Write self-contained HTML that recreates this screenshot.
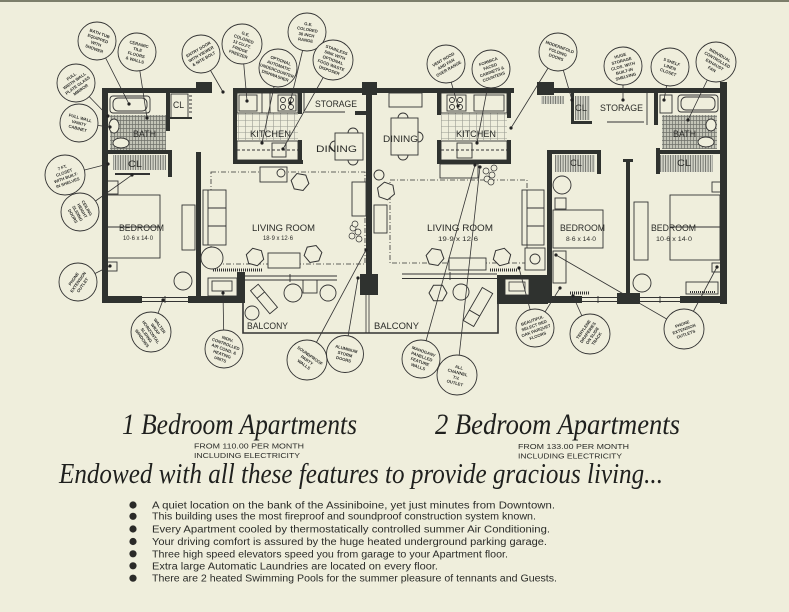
<!DOCTYPE html>
<html><head><meta charset="utf-8"><style>
html,body{margin:0;padding:0;background:#efeedc;}
svg{display:block}
.lb{font-family:"Liberation Sans",sans-serif;fill:#2a2b28;}
.bt{font-family:"Liberation Sans",sans-serif;font-size:4.2px;font-weight:bold;fill:#2e2f2c;}
.sc{font-family:"Liberation Serif",serif;font-style:italic;fill:#1f201e;}
</style></head><body>
<svg xmlns="http://www.w3.org/2000/svg" width="789" height="612" viewBox="0 0 789 612">
<defs>
<pattern id="tile" width="3" height="4" patternUnits="userSpaceOnUse"><rect width="3" height="4" fill="#c3c4b7"/><path d="M0.5 0V4M0 0.5H3" stroke="#6f716a" stroke-width="0.7"/></pattern>
<pattern id="vst" width="2.5" height="10" patternUnits="userSpaceOnUse"><rect width="2.5" height="10" fill="#d5d6ca"/><path d="M0.6 0V10" stroke="#6a6c66" stroke-width="0.9"/></pattern>
<pattern id="kt" width="7" height="6" patternUnits="userSpaceOnUse"><path d="M0.5 0V6M0 0.5H7" stroke="#9a9c92" stroke-width="0.6" fill="none"/></pattern>
<polygon id="hex" points="9,0 4.5,7.8 -4.5,7.8 -9,0 -4.5,-7.8 4.5,-7.8" fill="#efeedc" stroke="#333" stroke-width="1"/>
</defs>

<rect width="789" height="612" fill="#efeedc"/>
<rect width="789" height="2" fill="#7c7e6b"/>

<!-- floor fills -->
<rect x="110" y="115" width="56" height="35" fill="url(#tile)"/>
<rect x="113" y="155" width="53" height="15" fill="url(#vst)"/>
<rect x="662" y="115" width="55" height="34" fill="url(#tile)"/>
<rect x="555" y="155" width="40" height="17" fill="url(#vst)"/>
<rect x="660" y="155" width="53" height="17" fill="url(#vst)"/>
<rect x="541" y="96" width="23" height="8" fill="url(#vst)"/>
<rect x="575" y="96" width="15" height="24" fill="url(#vst)"/>
<rect x="237" y="113" width="61" height="27" fill="url(#kt)"/>
<rect x="441" y="113" width="66" height="27" fill="url(#kt)"/>

<!-- furniture / fixtures -->
<g fill="none" stroke="#333" stroke-width="0.9">
 <!-- left bath -->
 <rect x="110" y="96" width="40" height="17" rx="3"/>
 <rect x="113" y="98" width="34" height="13" rx="5"/>
 <ellipse cx="114" cy="126" rx="5" ry="7" fill="#efeedc"/>
 <ellipse cx="121" cy="143" rx="8" ry="5" fill="#efeedc"/>
 <rect x="171" y="94" width="17" height="24"/>
 <path d="M189 96h3M189 100h3M189 104h3M189 108h3M189 112h3"/>
 <path d="M115 174H150" stroke-width="2"/>
 <!-- left bedroom -->
 <rect x="107" y="195" width="53" height="63"/>
 <path d="M107 227H160"/>
 <rect x="107" y="181" width="11" height="13"/>
 <rect x="107" y="262" width="10" height="9"/>
 <circle cx="183" cy="281" r="9"/>
 <rect x="182" y="205" width="13" height="45"/>
 <!-- left living -->
 <rect x="211" y="172" width="154" height="92" stroke-dasharray="5 2 1 2" stroke-width="0.8"/>
 <rect x="203" y="190" width="23" height="55" fill="#efeedc"/>
 <path d="M208 190V245M208 208H226M208 226H226"/>
 <circle cx="212" cy="258" r="11" fill="#efeedc"/>
 <rect x="268" y="253" width="32" height="15" fill="#efeedc"/>
 <rect x="260" y="167" width="27" height="15" fill="#efeedc"/>
 <circle cx="281" cy="173" r="4"/>
 <rect x="352" y="182" width="14" height="34" fill="#efeedc"/>
 <path d="M213 270h50" stroke-dasharray="1 1" stroke-width="3"/>
 <!-- left kitchen -->
 <rect x="237" y="93" width="61" height="20"/>
 <rect x="239" y="95" width="18" height="16"/>
 <rect x="278" y="95" width="18" height="16"/>
 <circle cx="283" cy="100" r="2.5"/><circle cx="291" cy="100" r="2.5"/><circle cx="283" cy="107" r="2.5"/><circle cx="291" cy="107" r="2.5"/>
 <path d="M262 93v20M270 93v20"/>
 <rect x="237" y="141" width="61" height="19"/>
 <path d="M237 150H298" stroke-dasharray="3 2"/>
 <rect x="272" y="143" width="14" height="14"/>
 <!-- left storage / dining -->
 <path d="M304 93V113M305 112H345"/>
 <rect x="335" y="133" width="28" height="27"/>
 <path d="M348 133a5 5 0 0 1 10 0M348 160a5 5 0 0 0 10 0M335 141a5 5 0 0 0 0 10"/>
 <!-- left balcony -->
 <g transform="translate(264 299) rotate(50)"><rect x="-15" y="-5" width="30" height="10"/><path d="M-5 -5v10"/></g>
 <circle cx="252" cy="313" r="7"/>
 <circle cx="293" cy="293" r="9"/>
 <rect x="303" y="280" width="14" height="13"/>
 <circle cx="328" cy="293" r="8"/>
 <!-- right dining -->
 <rect x="389" y="93" width="33" height="14"/>
 <rect x="391" y="118" width="27" height="37"/>
 <path d="M398 118a5 5 0 0 1 10 0M398 155a5 5 0 0 0 10 0M418 132a5 5 0 0 1 0 10"/>
 <!-- right kitchen -->
 <rect x="441" y="93" width="66" height="20"/>
 <rect x="447" y="95" width="19" height="16"/>
 <circle cx="452" cy="100" r="2.5"/><circle cx="460" cy="100" r="2.5"/><circle cx="452" cy="107" r="2.5"/><circle cx="460" cy="107" r="2.5"/>
 <rect x="474" y="95" width="30" height="16"/>
 <rect x="441" y="141" width="66" height="19"/>
 <path d="M441 150H507" stroke-dasharray="3 2"/>
 <rect x="457" y="143" width="15" height="15"/>
 <rect x="440" y="164" width="38" height="14"/>
 <!-- right living -->
 <rect x="390" y="180" width="137" height="83" stroke-dasharray="5 2 1 2" stroke-width="0.8"/>
 <circle cx="379" cy="175" r="5" fill="#efeedc"/>
 <rect x="374" y="205" width="13" height="28" fill="#efeedc"/>
 <rect x="449" y="258" width="37" height="12" fill="#efeedc"/>
 <rect x="522" y="190" width="22" height="55" fill="#efeedc"/>
 <path d="M527 190V245M527 208H544M527 226H544"/>
 <rect x="525" y="248" width="20" height="22" fill="#efeedc"/>
 <circle cx="535" cy="259" r="5"/>
 <path d="M490 270h28" stroke-dasharray="1 1" stroke-width="3"/>
 <!-- right storage / bath -->
 <path d="M607 122H644M647 93V125"/>
 <rect x="660" y="95" width="12" height="18"/>
 <rect x="678" y="95" width="40" height="17" rx="3"/>
 <rect x="681" y="97" width="34" height="13" rx="5"/>
 <ellipse cx="711" cy="125" rx="5" ry="6" fill="#efeedc"/>
 <ellipse cx="706" cy="142" rx="8" ry="5" fill="#efeedc"/>
 <!-- small bedroom -->
 <circle cx="562" cy="185" r="9"/>
 <rect x="555" y="198" width="11" height="11"/>
 <rect x="553" y="210" width="50" height="38"/>
 <rect x="553" y="251" width="13" height="32"/>
 <path d="M570 293h20" stroke-dasharray="1 1" stroke-width="3"/>
 <!-- big bedroom -->
 <rect x="634" y="202" width="14" height="58"/>
 <rect x="670" y="195" width="50" height="65"/>
 <path d="M670 227H720"/>
 <rect x="712" y="182" width="9" height="10"/>
 <rect x="712" y="263" width="10" height="9"/>
 <circle cx="642" cy="283" r="9"/>
 <rect x="686" y="282" width="32" height="12"/>
 <path d="M690 292h25" stroke-dasharray="1 1" stroke-width="2"/>
 <!-- right balcony -->
 <circle cx="461" cy="292" r="8"/>
 <g transform="translate(478 307) rotate(-60)"><rect x="-19" y="-6" width="38" height="12"/><path d="M-7 -6v12"/></g>
 <!-- windows -->
 <path d="M142 297.5H188M142 301.5H188M245 276H337M245 280H337M402 274H497M402 278.5H497M582 297.5H617M582 301.5H617M640 297.5H680M640 301.5H680"/>
 <path d="M290 274v8M450 272v8M165 296v7M598 296v7M660 296v7"/>
 <!-- balcony -->
 <path d="M243 303V333H498V303" stroke-width="1.6"/>
 <path d="M366 295V333M369 295V333" stroke-width="0.8"/>
 <!-- heater boxes -->
 <rect x="208" y="278" width="29" height="18" fill="#efeedc"/>
 <rect x="212" y="281" width="20" height="10"/>
</g>
<use href="#hex" x="255" y="257" transform="rotate(15 255 257)"/>
<use href="#hex" x="313" y="254" transform="rotate(-10 313 254)"/>
<use href="#hex" x="300" y="182" transform="rotate(10 300 182)"/>
<use href="#hex" x="386" y="191" transform="rotate(20 386 191)"/>
<use href="#hex" x="435" y="257" transform="rotate(10 435 257)"/>
<use href="#hex" x="502" y="257" transform="rotate(-15 502 257)"/>
<use href="#hex" x="438" y="293" transform="rotate(0 438 293)"/>
<g fill="#efeedc" stroke="#333" stroke-width="0.7">
 <circle cx="353" cy="228" r="3"/><circle cx="358" cy="232" r="3"/><circle cx="352" cy="236" r="3"/><circle cx="359" cy="239" r="3"/><circle cx="355" cy="224" r="3"/>
 <circle cx="486" cy="171" r="3"/><circle cx="492" cy="175" r="3"/><circle cx="487" cy="179" r="3"/><circle cx="494" cy="168" r="3"/><circle cx="491" cy="182" r="3"/>
</g>

<!-- walls -->
<g fill="#2f322f">
 <rect x="102" y="88" width="110" height="5"/>
 <rect x="196" y="82" width="16" height="11"/>
 <rect x="102" y="88" width="6" height="215"/>
 <rect x="102" y="296" width="40" height="7"/>
 <rect x="188" y="296" width="57" height="7"/>
 <rect x="237" y="272" width="8" height="31"/>
 <rect x="196" y="152" width="5" height="146"/>
 <rect x="166" y="93" width="4" height="38"/>
 <rect x="108" y="150" width="64" height="4"/>
 <rect x="168" y="150" width="4" height="27"/>
 <rect x="168" y="117" width="24" height="2"/>
 <rect x="233" y="88" width="140" height="5"/>
 <rect x="362" y="82" width="15" height="13"/>
 <rect x="233" y="88" width="4" height="76"/>
 <rect x="233" y="160" width="70" height="4"/>
 <rect x="298" y="93" width="4" height="21"/>
 <rect x="298" y="140" width="4" height="24"/>
 <rect x="366" y="88" width="6" height="190"/>
 <rect x="360" y="274" width="18" height="21"/>
 <rect x="355" y="111" width="11" height="4"/>
 <rect x="372" y="88" width="142" height="5"/>
 <rect x="437" y="93" width="4" height="22"/>
 <rect x="437" y="140" width="4" height="24"/>
 <rect x="507" y="93" width="4" height="25"/>
 <rect x="507" y="140" width="4" height="24"/>
 <rect x="437" y="160" width="74" height="4"/>
 <rect x="537" y="82" width="17" height="13"/>
 <rect x="537" y="88" width="189" height="5"/>
 <rect x="720" y="82" width="7" height="222"/>
 <rect x="571" y="93" width="3" height="30"/>
 <rect x="571" y="121" width="21" height="3"/>
 <rect x="654" y="93" width="4" height="32"/>
 <rect x="656" y="148" width="4" height="14"/>
 <rect x="656" y="150" width="70" height="4"/>
 <rect x="547" y="150" width="5" height="150"/>
 <rect x="547" y="150" width="54" height="4"/>
 <rect x="597" y="150" width="4" height="24"/>
 <rect x="626" y="160" width="4" height="140"/>
 <rect x="623" y="159" width="10" height="3"/>
 <rect x="656" y="150" width="4" height="24"/>
 <rect x="497" y="296" width="85" height="7"/>
 <rect x="617" y="293" width="23" height="11"/>
 <rect x="680" y="296" width="47" height="7"/>
 <rect x="497" y="275" width="51" height="29"/>
</g>
<rect x="505" y="279" width="24" height="16" fill="#efeedc" stroke="#333" stroke-width="0.9"/>
<rect x="509" y="282" width="16" height="9" fill="none" stroke="#333" stroke-width="0.8"/>

<!-- room labels -->
<g class="lb" font-size="9.5">
 <text x="315" y="107" textLength="42" lengthAdjust="spacingAndGlyphs">STORAGE</text>
 <text x="250" y="137" textLength="41" lengthAdjust="spacingAndGlyphs">KITCHEN</text>
 <text x="316" y="152" textLength="41" lengthAdjust="spacingAndGlyphs">DINING</text>
 <text x="133" y="137" textLength="23" lengthAdjust="spacingAndGlyphs">BATH</text>
 <text x="173" y="108" textLength="11" lengthAdjust="spacingAndGlyphs">CL</text>
 <text x="128" y="167" textLength="14" lengthAdjust="spacingAndGlyphs">CL</text>
 <text x="119" y="231" textLength="45" lengthAdjust="spacingAndGlyphs">BEDROOM</text>
 <text x="252" y="231" textLength="63" lengthAdjust="spacingAndGlyphs">LIVING ROOM</text>
 <text x="247" y="329" textLength="41" lengthAdjust="spacingAndGlyphs">BALCONY</text>
 <text x="374" y="329" textLength="45" lengthAdjust="spacingAndGlyphs">BALCONY</text>
 <text x="383" y="142" textLength="35" lengthAdjust="spacingAndGlyphs">DINING</text>
 <text x="456" y="137" textLength="40" lengthAdjust="spacingAndGlyphs">KITCHEN</text>
 <text x="600" y="111" textLength="43" lengthAdjust="spacingAndGlyphs">STORAGE</text>
 <text x="575" y="111" textLength="12" lengthAdjust="spacingAndGlyphs">CL</text>
 <text x="673" y="137" textLength="23" lengthAdjust="spacingAndGlyphs">BATH</text>
 <text x="570" y="166" textLength="12" lengthAdjust="spacingAndGlyphs">CL</text>
 <text x="677" y="166" textLength="14" lengthAdjust="spacingAndGlyphs">CL</text>
 <text x="427" y="231" textLength="66" lengthAdjust="spacingAndGlyphs">LIVING ROOM</text>
 <text x="560" y="231" textLength="45" lengthAdjust="spacingAndGlyphs">BEDROOM</text>
 <text x="651" y="231" textLength="45" lengthAdjust="spacingAndGlyphs">BEDROOM</text>
</g>
<g class="lb" font-size="6.5">
 <text x="123" y="240" textLength="30" lengthAdjust="spacingAndGlyphs">10·6 x 14·0</text>
 <text x="263" y="240" textLength="30" lengthAdjust="spacingAndGlyphs">18·9 x 12·6</text>
 <text x="438" y="241" textLength="40" lengthAdjust="spacingAndGlyphs">19·9  x 12·6</text>
 <text x="566" y="241" textLength="30" lengthAdjust="spacingAndGlyphs">8·6 x 14·0</text>
 <text x="656" y="241" textLength="36" lengthAdjust="spacingAndGlyphs">10·6 x 14·0</text>
</g>

<!-- leader lines -->
<g stroke="#333" stroke-width="0.8">
 <path d="M97 41L129 104M137 52L147 118M76 83L108 116M79 123L110 127M65 175L108 164M80 212L132 175M78 282L110 266"/>
 <path d="M201 54L223 92M242 44L247 101M278 68L262 143M307 32L290 103M333 60L283 149"/>
 <path d="M446 64L458 106M491 69L477 143M558 52L511 128M558 52L572 100M623 66L623 100M670 67L664 100M716 62L688 120"/>
 <path d="M151 332L163 300M224 349L223 293M307 360L366 250M345 354L358 278M421 359L475 165M457 375L480 167"/>
 <path d="M535 328L519 268M535 328L560 288M590 334L573 296M684 329L556 255M684 329L717 267"/>
</g>
<g fill="#222">
 <circle cx="129" cy="104" r="1.6"/><circle cx="147" cy="118" r="1.6"/><circle cx="108" cy="116" r="1.6"/><circle cx="110" cy="127" r="1.6"/><circle cx="108" cy="164" r="1.6"/><circle cx="132" cy="175" r="1.6"/><circle cx="110" cy="266" r="1.6"/>
 <circle cx="223" cy="92" r="1.6"/><circle cx="247" cy="101" r="1.6"/><circle cx="262" cy="143" r="1.6"/><circle cx="290" cy="103" r="1.6"/><circle cx="283" cy="149" r="1.6"/>
 <circle cx="458" cy="106" r="1.6"/><circle cx="477" cy="143" r="1.6"/><circle cx="511" cy="128" r="1.6"/><circle cx="572" cy="100" r="1.6"/><circle cx="623" cy="100" r="1.6"/><circle cx="664" cy="100" r="1.6"/><circle cx="688" cy="120" r="1.6"/>
 <circle cx="163" cy="300" r="1.6"/><circle cx="223" cy="293" r="1.6"/><circle cx="366" cy="250" r="1.6"/><circle cx="358" cy="278" r="1.6"/><circle cx="475" cy="165" r="1.6"/><circle cx="480" cy="167" r="1.6"/>
 <circle cx="519" cy="268" r="1.6"/><circle cx="560" cy="288" r="1.6"/><circle cx="573" cy="296" r="1.6"/><circle cx="556" cy="255" r="1.6"/><circle cx="717" cy="267" r="1.6"/>
</g>

<!-- bubbles -->
<g fill="#efeedc" stroke="#333" stroke-width="0.9">
 <circle cx="97" cy="41" r="19"/><circle cx="137" cy="52" r="19"/><circle cx="76" cy="83" r="19"/><circle cx="79" cy="123" r="19"/><circle cx="65" cy="175" r="20"/><circle cx="80" cy="212" r="19"/><circle cx="78" cy="282" r="19"/>
 <circle cx="201" cy="54" r="19"/><circle cx="242" cy="44" r="20"/><circle cx="278" cy="68" r="19"/><circle cx="307" cy="32" r="19"/><circle cx="333" cy="60" r="20"/>
 <circle cx="446" cy="64" r="19"/><circle cx="491" cy="69" r="19"/><circle cx="558" cy="52" r="19"/><circle cx="623" cy="66" r="19"/><circle cx="670" cy="67" r="19"/><circle cx="716" cy="62" r="20"/>
 <circle cx="151" cy="332" r="20"/><circle cx="224" cy="349" r="19"/><circle cx="307" cy="360" r="20"/><circle cx="345" cy="354" r="18.5"/><circle cx="421" cy="359" r="19"/><circle cx="457" cy="375" r="20"/>
 <circle cx="535" cy="328" r="19"/><circle cx="590" cy="334" r="20"/><circle cx="684" cy="329" r="20"/>
</g>
<g class="bt" text-anchor="middle">
 <text transform="translate(97 41) rotate(20)"><tspan x="0" y="-6.5">BATH TUB</tspan><tspan x="0" y="-1.1">EQUIPPED</tspan><tspan x="0" y="4.3">WITH</tspan><tspan x="0" y="9.7">SHOWER</tspan></text>
 <text transform="translate(137 52) rotate(15)"><tspan x="0" y="-6.5">CERAMIC</tspan><tspan x="0" y="-1.1">TILE</tspan><tspan x="0" y="4.3">FLOORS</tspan><tspan x="0" y="9.7">&amp; WALLS</tspan></text>
 <text transform="translate(76 83) rotate(-35)"><tspan x="0" y="-6.5">FULL</tspan><tspan x="0" y="-1.1">WIDTH WALL</tspan><tspan x="0" y="4.3">PLATE GLASS</tspan><tspan x="0" y="9.7">MIRROR</tspan></text>
 <text transform="translate(79 123) rotate(15)"><tspan x="0" y="-3.8">FULL WALL</tspan><tspan x="0" y="1.6">VANITY</tspan><tspan x="0" y="7">CABINET</tspan></text>
 <text transform="translate(65 175) rotate(-20)"><tspan x="0" y="-6.5">7 FT.</tspan><tspan x="0" y="-1.1">CLOSET</tspan><tspan x="0" y="4.3">WITH BUILT-</tspan><tspan x="0" y="9.7">IN SHELVES</tspan></text>
 <text transform="translate(80 212) rotate(60)"><tspan x="0" y="-6.5">CEILING</tspan><tspan x="0" y="-1.1">HEIGHT</tspan><tspan x="0" y="4.3">SLIDING</tspan><tspan x="0" y="9.7">DOORS</tspan></text>
 <text transform="translate(78 282) rotate(-55)"><tspan x="0" y="-3.8">PHONE</tspan><tspan x="0" y="1.6">EXTENSION</tspan><tspan x="0" y="7">OUTLET</tspan></text>
 <text transform="translate(201 54) rotate(-30)"><tspan x="0" y="-3.8">ENTRY DOOR</tspan><tspan x="0" y="1.6">WITH VIEWER</tspan><tspan x="0" y="7">&amp; NITE BOLT</tspan></text>
 <text transform="translate(242 44) rotate(20)"><tspan x="0" y="-9.2">G.E.</tspan><tspan x="0" y="-3.8">COLORED</tspan><tspan x="0" y="1.6">13 CU.FT.</tspan><tspan x="0" y="7">FRIDGE</tspan><tspan x="0" y="12.4">FREEZER</tspan></text>
 <text transform="translate(278 68) rotate(20)"><tspan x="0" y="-6.5">OPTIONAL</tspan><tspan x="0" y="-1.1">AUTOMATIC</tspan><tspan x="0" y="4.3">UNDERCOUNTER</tspan><tspan x="0" y="9.7">DISHWASHER</tspan></text>
 <text transform="translate(307 32) rotate(10)"><tspan x="0" y="-6.5">G.E.</tspan><tspan x="0" y="-1.1">COLORED</tspan><tspan x="0" y="4.3">30 INCH</tspan><tspan x="0" y="9.7">RANGE</tspan></text>
 <text transform="translate(333 60) rotate(20)"><tspan x="0" y="-9.2">STAINLESS</tspan><tspan x="0" y="-3.8">SINK WITH</tspan><tspan x="0" y="1.6">OPTIONAL</tspan><tspan x="0" y="7">FOOD WASTE</tspan><tspan x="0" y="12.4">DISPOSER</tspan></text>
 <text transform="translate(446 64) rotate(-30)"><tspan x="0" y="-3.8">VENT HOOD</tspan><tspan x="0" y="1.6">AND FAN</tspan><tspan x="0" y="7">OVER RANGE</tspan></text>
 <text transform="translate(491 69) rotate(-20)"><tspan x="0" y="-6.5">FORMICA</tspan><tspan x="0" y="-1.1">FACED</tspan><tspan x="0" y="4.3">CABINETS &amp;</tspan><tspan x="0" y="9.7">COUNTERS</tspan></text>
 <text transform="translate(558 52) rotate(20)"><tspan x="0" y="-3.8">MODERNFOLD</tspan><tspan x="0" y="1.6">FOLDING</tspan><tspan x="0" y="7">DOORS</tspan></text>
 <text transform="translate(623 66) rotate(-15)"><tspan x="0" y="-9.2">HUGE</tspan><tspan x="0" y="-3.8">STORAGE</tspan><tspan x="0" y="1.6">CLOS. WITH</tspan><tspan x="0" y="7">BUILT-IN</tspan><tspan x="0" y="12.4">SHELVING</tspan></text>
 <text transform="translate(670 67) rotate(20)"><tspan x="0" y="-3.8">5 SHELF</tspan><tspan x="0" y="1.6">LINEN</tspan><tspan x="0" y="7">CLOSET</tspan></text>
 <text transform="translate(716 62) rotate(30)"><tspan x="0" y="-6.5">INDIVIDUAL</tspan><tspan x="0" y="-1.1">CONTROLLED</tspan><tspan x="0" y="4.3">EXHAUST</tspan><tspan x="0" y="9.7">FAN</tspan></text>
 <text transform="translate(151 332) rotate(55)"><tspan x="0" y="-9.2">WALTER</tspan><tspan x="0" y="-3.8">WRAP</tspan><tspan x="0" y="1.6">HORIZONTAL</tspan><tspan x="0" y="7">SLIDING</tspan><tspan x="0" y="12.4">WINDOWS</tspan></text>
 <text transform="translate(224 349) rotate(20)"><tspan x="0" y="-9.2">INDIV.</tspan><tspan x="0" y="-3.8">CONTROLLED</tspan><tspan x="0" y="1.6">AIR COND. &amp;</tspan><tspan x="0" y="7">HEATING</tspan><tspan x="0" y="12.4">UNITS</tspan></text>
 <text transform="translate(307 360) rotate(35)"><tspan x="0" y="-3.8">SOUNDPROOF</tspan><tspan x="0" y="1.6">PARTY</tspan><tspan x="0" y="7">WALLS</tspan></text>
 <text transform="translate(345 354) rotate(15)"><tspan x="0" y="-3.8">ALUMINUM</tspan><tspan x="0" y="1.6">STORM</tspan><tspan x="0" y="7">DOORS</tspan></text>
 <text transform="translate(421 359) rotate(20)"><tspan x="0" y="-6.5">MAHOGANY</tspan><tspan x="0" y="-1.1">PANELLED</tspan><tspan x="0" y="4.3">FEATURE</tspan><tspan x="0" y="9.7">WALLS</tspan></text>
 <text transform="translate(457 375) rotate(15)"><tspan x="0" y="-6.5">ALL</tspan><tspan x="0" y="-1.1">CHANNEL</tspan><tspan x="0" y="4.3">T.V.</tspan><tspan x="0" y="9.7">OUTLET</tspan></text>
 <text transform="translate(535 328) rotate(-20)"><tspan x="0" y="-6.5">BEAUTIFUL</tspan><tspan x="0" y="-1.1">SELECT RED</tspan><tspan x="0" y="4.3">OAK PARQUET</tspan><tspan x="0" y="9.7">FLOORS</tspan></text>
 <text transform="translate(590 334) rotate(-55)"><tspan x="0" y="-6.5">TERYLENE</tspan><tspan x="0" y="-1.1">DRAPERIES</tspan><tspan x="0" y="4.3">ON SLIDE</tspan><tspan x="0" y="9.7">TRACK</tspan></text>
 <text transform="translate(684 329) rotate(-20)"><tspan x="0" y="-3.8">PHONE</tspan><tspan x="0" y="1.6">EXTENSION</tspan><tspan x="0" y="7">OUTLETS</tspan></text>
</g>

<!-- headings -->
<text class="sc" x="122" y="434" font-size="30" textLength="235" lengthAdjust="spacingAndGlyphs">1 Bedroom Apartments</text>
<text class="sc" x="435" y="434" font-size="30" textLength="245" lengthAdjust="spacingAndGlyphs">2 Bedroom Apartments</text>
<g class="lb" font-size="7.2">
 <text x="194" y="448.5" textLength="110" lengthAdjust="spacingAndGlyphs">FROM 110.00 PER MONTH</text>
 <text x="194" y="458" textLength="106" lengthAdjust="spacingAndGlyphs">INCLUDING ELECTRICITY</text>
 <text x="518" y="449" textLength="111" lengthAdjust="spacingAndGlyphs">FROM 133.00 PER MONTH</text>
 <text x="518" y="458.5" textLength="104" lengthAdjust="spacingAndGlyphs">INCLUDING ELECTRICITY</text>
</g>
<text class="sc" x="59" y="483" font-size="28" textLength="604" lengthAdjust="spacingAndGlyphs">Endowed with all these features to provide gracious living...</text>

<!-- bullets -->
<g fill="#2a2a28">
 <circle cx="133" cy="505" r="3.6"/><circle cx="133" cy="516.3" r="3.6"/><circle cx="133" cy="529" r="3.6"/><circle cx="133" cy="541.5" r="3.6"/><circle cx="133" cy="553.8" r="3.6"/><circle cx="133" cy="565.8" r="3.6"/><circle cx="133" cy="578.2" r="3.6"/>
</g>
<g class="lb" font-size="9.8">
 <text x="152" y="508.3" textLength="403" lengthAdjust="spacingAndGlyphs">A quiet location on the bank of the Assiniboine, yet just minutes from Downtown.</text>
 <text x="152" y="519.5" textLength="384" lengthAdjust="spacingAndGlyphs">This building uses the most fireproof and soundproof construction system known.</text>
 <text x="152" y="532.5" textLength="398" lengthAdjust="spacingAndGlyphs">Every Apartment cooled by thermostatically controlled summer Air Conditioning.</text>
 <text x="152" y="545" textLength="395" lengthAdjust="spacingAndGlyphs">Your driving comfort is assured by the huge heated underground parking garage.</text>
 <text x="152" y="557.3" textLength="356" lengthAdjust="spacingAndGlyphs">Three high speed elevators speed you from garage to your Apartment floor.</text>
 <text x="152" y="569.3" textLength="286" lengthAdjust="spacingAndGlyphs">Extra large Automatic Laundries are located on every floor.</text>
 <text x="152" y="581.7" textLength="405" lengthAdjust="spacingAndGlyphs">There are 2 heated Swimming Pools for the summer pleasure of tennants and Guests.</text>
</g>
</svg>
</body></html>
